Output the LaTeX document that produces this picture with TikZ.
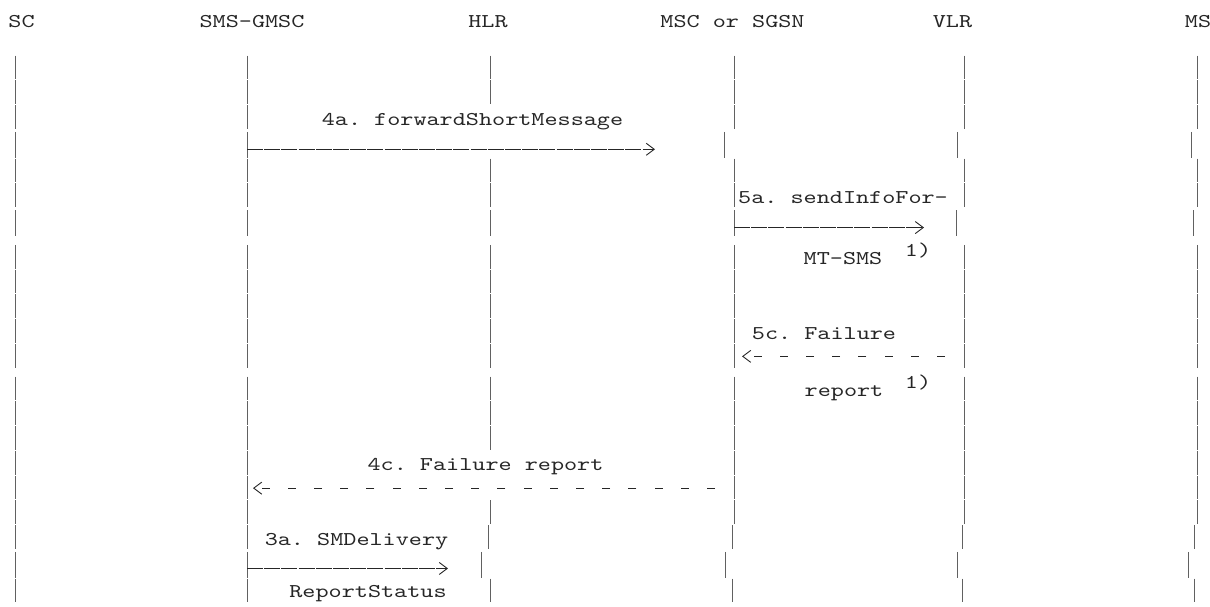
\documentclass[tikz,border=0pt]{standalone}
\usepackage{fontspec}
\usetikzlibrary{arrows.meta}
\newfontfamily\courfont{lmmono10-regular}[Extension=.otf, FakeStretch=1.28]
\definecolor{ink}{gray}{0.15}
\definecolor{rule}{gray}{0.38}
% row tops (index 1..22) and top offsets of the bar inside a row
\def\RT{{0,55,79.76,104.52,129.28,158.04,182.80,207.56,236.32,269.08,293.84,318.60,343.36,368.12,400.88,425.64,450.40,475.16,499.92,524.68,549.44,578.20,602.96}}
\def\RO{{0,0,0,0,2,0,0,2,8,0,0,0,0,8,0,0,0,0,0,0,2,0,0}}
\newcommand\lseg[2]{\draw[life] (#1,{\RT[#2]+\RO[#2]+0.5}) -- (#1,{\RT[#2+1]-0.5});}
\tikzset{
  lbl/.style={font=\courfont\fontsize{19.5}{23}\selectfont\frenchspacing, text=ink, inner sep=0pt, anchor=base},
  life/.style={draw=rule, line width=1pt},
  msg/.style={draw=ink, line width=0.9pt, -{Straight Barb[length=8pt,width=12pt]}},
  solidmsg/.style={msg, dash pattern=on 16pt off 1.2pt},
  reply/.style={msg, dash pattern=on 8pt off 18.2pt}
}
\begin{document}
\begin{tikzpicture}[x=1pt,y=-1pt]
\useasboundingbox (0,0) rectangle (1210,606);
% headers
\node[lbl] (sc)   at (21.5,27)  {SC};
\node[lbl] (gmsc) at (252,27)   {SMS-GMSC};
\node[lbl] (hlr)  at (488,27)   {HLR};
\node[lbl] (msc)  at (732.5,27) {MSC or SGSN};
\node[lbl] (vlr)  at (952.5,27) {VLR};
\node[lbl] (ms)   at (1198,27)  {MS};
% lifelines (row segments)
\foreach \r in {1,...,21} {\lseg{15}{\r}}
\foreach \r in {1,...,21} {\lseg{247}{\r}}
\foreach \r in {1,2} {\lseg{490}{\r}}
\foreach \r in {5,...,15} {\lseg{490}{\r}}
\lseg{490}{18}\lseg{488}{19}\lseg{481}{20}\lseg{490}{21}
\foreach \r in {1,2,3} {\lseg{734}{\r}}
\foreach \r in {5,...,18} {\lseg{734}{\r}}
\lseg{724}{4}\lseg{732}{19}\lseg{725}{20}\lseg{732}{21}
\foreach \r in {1,2,3,5,6} {\lseg{964}{\r}}
\foreach \r in {8,...,18} {\lseg{964}{\r}}
\lseg{957}{4}\lseg{956}{7}\lseg{962}{19}\lseg{957}{20}\lseg{962}{21}
\foreach \r in {1,2,3,5,6} {\lseg{1197}{\r}}
\foreach \r in {8,...,18} {\lseg{1197}{\r}}
\lseg{1191}{4}\lseg{1193}{7}\lseg{1194}{19}\lseg{1188}{20}\lseg{1194}{21}
% message labels
\node[lbl] (t4a)  at (472.5,{\RT[3]+20.5})  {4a. forwardShortMessage};
\node[lbl] (t5a)  at (843,{\RT[6]+20.5})    {5a. sendInfoFor-};
\node[lbl] (t5b)  at (843,{\RT[8]+28.5})    {MT-SMS};
\node[lbl] (n5a)  at (918,{\RT[8]+20.5})    {1)};
\node[lbl] (t5c)  at (824,{\RT[11]+20.5})   {5c. Failure};
\node[lbl] (t5d)  at (844,{\RT[13]+28.5})   {report};
\node[lbl] (n5c)  at (918,{\RT[13]+20.5})   {1)};
\node[lbl] (t4c)  at (485.5,{\RT[16]+20.5}) {4c. Failure report};
\node[lbl] (t3a)  at (356.5,{\RT[19]+20.5}) {3a. SMDelivery};
\node[lbl] (t3b)  at (368,{\RT[21]+19})     {ReportStatus};
% arrow end points
\coordinate (g4)  at (247,{\RT[4]+20});
\coordinate (e4)  at (655,{\RT[4]+20});
\coordinate (m7)  at (734,{\RT[7]+20});
\coordinate (e7)  at (924,{\RT[7]+20});
\coordinate (v12) at (945,{\RT[12]+13});
\coordinate (m12) at (742,{\RT[12]+13});
\coordinate (m17) at (715,{\RT[17]+13});
\coordinate (g17) at (253,{\RT[17]+13});
\coordinate (g20) at (247,{\RT[20]+19});
\coordinate (e20) at (448,{\RT[20]+19});
% messages
\draw[solidmsg] (g4) -- (e4);
\draw[solidmsg] (m7) -- (e7);
\draw[reply] (v12) -- (m12);
\draw[reply] (m17) -- (g17);
\draw[solidmsg] (g20) -- (e20);
\end{tikzpicture}
\end{document}
